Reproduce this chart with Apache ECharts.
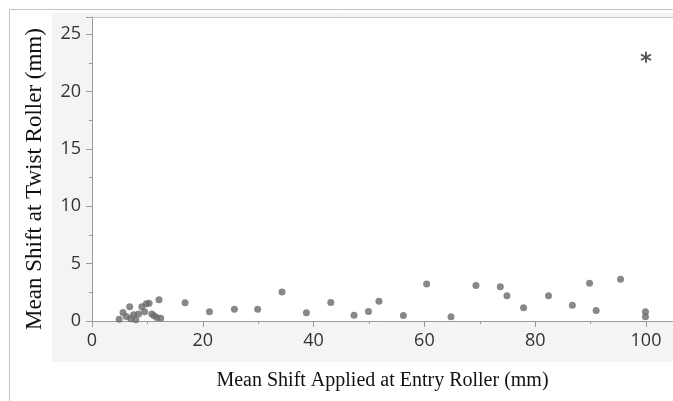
<!DOCTYPE html>
<html>
<head>
<meta charset="utf-8">
<script src="https://cdn.jsdelivr.net/npm/echarts@6/dist/echarts.min.js"></script>
<style>
  html, body { margin: 0; padding: 0; background: #ffffff; }
  #chart { width: 673px; height: 401px; }
</style>
</head>
<body>
<div id="chart"></div>
<script>
// Mean shift applied at the entry roller vs. resulting mean shift at the twist roller (mm)
const entryShift = [
  4.9, 5.6, 6.2, 6.8, 7.0, 7.5, 7.9, 8.4, 9.0, 9.5, 9.8, 10.3, 10.8, 11.2, 11.7, 12.1, 12.4,
  16.8, 21.2, 25.7, 29.9, 34.3, 38.7, 43.1, 47.3, 49.9, 51.8,
  56.2, 60.4, 64.8, 69.3, 73.7, 74.9, 77.9, 82.4, 86.7, 89.8, 91.0, 95.4, 99.9, 99.9
];
const twistShift = [
  0.15, 0.75, 0.4, 1.25, 0.2, 0.55, 0.1, 0.6, 1.25, 0.8, 1.5, 1.55, 0.6, 0.45, 0.3, 1.85, 0.25,
  1.6, 0.8, 1.03, 1.03, 2.52, 0.72, 1.62, 0.5, 0.82, 1.73,
  0.48, 3.22, 0.37, 3.1, 2.99, 2.2, 1.15, 2.2, 1.38, 3.3, 0.92, 3.65, 0.8, 0.37
];
// Flagged outlier run, drawn with an asterisk
const outlierEntry = [100];
const outlierTwist = [23];

// The plot runs off the right edge, so the x range ends a little past 100
const xTicks = { min: 0, max: 104.87, interval: 20 };
const yTicks = { min: 0, max: 26.5, interval: 5 };

const xTitle = 'Mean Shift Applied at Entry Roller (mm)';
const yTitle = 'Mean Shift at Twist Roller (mm)';

const points = entryShift.map((x, i) => [x, twistShift[i]]);
const outliers = outlierEntry.map((x, i) => [x, outlierTwist[i]]);

const asterisk = 'path://M0.8,5L-0.8,5L-0.8,-5L0.8,-5Z' +
  'M4.73,1.807L3.93,3.193L-4.73,-1.807L-3.93,-3.193Z' +
  'M-3.93,3.193L-4.73,1.807L3.93,-3.193L4.73,-1.807Z';

const tickFont = { fontFamily: '"Open Sans", "Noto Sans", sans-serif', fontSize: 18, color: '#333333' };
const serif = '"Liberation Serif", "DejaVu Serif", serif';

const chart = echarts.init(document.getElementById('chart'), null, { renderer: 'canvas' });
chart.setOption({
  animation: false,
  backgroundColor: '#ffffff',
  graphic: [
    { type: 'rect', z: -10, shape: { x: 9.5, y: 9.5, width: 700, height: 420 },
      style: { fill: '#ffffff', stroke: '#c4c4c4', lineWidth: 1 } },
    { type: 'rect', z: -9, shape: { x: 52, y: 13, width: 700, height: 349 },
      style: { fill: '#f4f4f4' } },
    // top edge of the plot frame
    { type: 'line', z: 5, shape: { x1: 92, y1: 17.5, x2: 700, y2: 17.5 },
      style: { stroke: '#c8c8c8', lineWidth: 1 } },
    { type: 'text', z: 5, x: 35, y: 179, rotation: Math.PI / 2,
      style: { text: yTitle, font: '23px ' + serif, fill: '#111111',
               align: 'center', verticalAlign: 'middle' } }
  ],
  grid: {
    left: 92, top: 17, right: 0, bottom: 80,
    show: true, backgroundColor: '#ffffff', borderWidth: 0
  },
  xAxis: {
    type: 'value', min: xTicks.min, max: xTicks.max, interval: xTicks.interval,
    name: xTitle,
    nameLocation: 'middle', nameGap: 50,
    nameTextStyle: { fontFamily: serif, fontSize: 20, color: '#111111' },
    axisLine: { show: true, onZero: false, lineStyle: { color: '#9a9a9a', width: 1 } },
    axisTick: { show: true, length: 6, lineStyle: { color: '#9a9a9a' } },
    minorTick: { show: true, splitNumber: 2, length: 3, lineStyle: { color: '#9a9a9a' } },
    splitLine: { show: false },
    axisLabel: Object.assign({ margin: 11, showMaxLabel: false }, tickFont)
  },
  yAxis: {
    type: 'value', min: yTicks.min, max: yTicks.max, interval: yTicks.interval,
    axisLine: { show: true, onZero: false, lineStyle: { color: '#9a9a9a', width: 1 } },
    axisTick: { show: true, length: 6, lineStyle: { color: '#9a9a9a' } },
    minorTick: { show: true, splitNumber: 2, length: 3, lineStyle: { color: '#9a9a9a' } },
    splitLine: { show: false },
    axisLabel: Object.assign({ margin: 11, showMaxLabel: false }, tickFont)
  },
  series: [
    {
      type: 'scatter', data: points, symbol: 'circle', symbolSize: 7,
      itemStyle: { color: '#6a6a6a' }
    },
    {
      type: 'scatter', data: outliers, symbol: asterisk, symbolSize: 11,
      itemStyle: { color: '#2a2a2a' }
    }
  ]
});
</script>
</body>
</html>
